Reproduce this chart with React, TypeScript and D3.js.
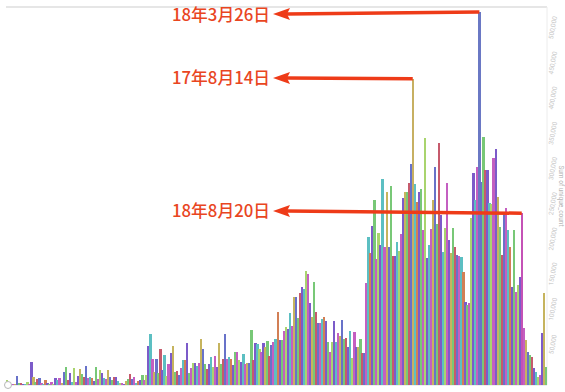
import * as d3 from 'd3';

// daily totals, in thousands left to right
const early = [
  7, 1, 1, 1, 1, 13, 3, 3, 1, 1, 4, 1, 33, 11, 4, 9, 10, 3, 1, 7,
  3, 1, 4, 1, 10, 7, 10, 3, 18, 26, 7, 17, 4, 24, 4, 13, 23, 16, 11, 27,
  10, 11, 10, 6, 26, 9, 21, 17, 10, 9, 21, 11, 7, 11, 11, 6, 3, 3, 1, 6,
  9, 16, 9, 11, 3, 6, 7, 14, 7, 14, 55, 72, 37, 18, 37, 17, 51, 21, 43, 13,
  30, 45, 55, 18, 20, 14, 24, 36, 36, 60,
];
const middle = [
  17, 24, 31, 31, 27, 31, 65, 51, 30, 23, 30, 40, 26, 41, 26, 60, 30, 37, 72, 37,
  40, 37, 28, 47, 47, 36, 33, 44, 30, 31, 31, 78, 36, 60, 58, 51, 47, 60, 54, 62,
  41, 57, 61, 65, 104, 64, 64, 77, 82, 80, 102, 84, 125, 125, 95, 131, 139, 136, 162, 158,
  116, 97, 146, 104, 88, 88, 94, 97, 91, 61, 47, 61, 91, 61, 74, 70, 92, 65, 67, 54,
  77, 38, 75, 54, 54, 65, 45, 45,
];
const late = [
  145, 210, 187, 226, 263, 179, 216, 199, 293, 196, 274, 196, 283, 183, 183, 203, 190, 214, 266, 274,
  274, 287, 314, 435, 285, 260, 274, 278, 220, 351, 180, 199, 222, 263, 310, 229, 344, 241, 189, 223,
  287, 206, 187, 223, 196, 185, 183, 182, 160, 118, 114, 116, 237, 301, 263, 310, 530, 288, 352, 305,
  305, 258, 257, 322, 335, 267, 224, 185, 246, 251, 220, 196, 139, 220, 132, 142, 153, 244, 81, 64,
  47, 43, 40, 24, 18, 11, 14, 74, 131, 26,
];
const values = [...early, ...middle, ...late].map(v => v * 1000);

const yTicks = [50000, 100000, 150000, 200000, 250000, 300000, 350000, 400000, 450000, 500000];

const notes = [
  { label: '18年3月26日', bar: early.length + middle.length + 56, textY: 15, tipY: 14 },
  { label: '17年8月14日', bar: early.length + middle.length + 23, textY: 78, tipY: 78 },
  { label: '18年8月20日', bar: early.length + middle.length + 77, textY: 211, tipY: 211 },
];

const palette = {
  green: '#78c877', purple: '#7c5bc9', pink: '#c45fc1', red: '#c65a6c', teal: '#5cbfc2',
  olive: '#c6b45e', blue: '#6872c9', lime: '#a9d46e', orange: '#d27f55',
};
// colour order as it repeats along the bars
const colorCycle = [
  'lime', 'purple', 'teal', 'pink', 'olive', 'blue', 'green', 'red', 'purple', 'teal', 'lime',
  'pink', 'purple', 'olive', 'green', 'red', 'blue', 'pink', 'teal', 'orange', 'purple', 'green', 'pink',
];
const noteColor = ['#6a78c4', '#c7b062', '#c452b6'];

export default function App() {
  const W = 565, H = 392;
  const left = 6, right = 547, top = 7, bottom = 385;

  const x = d3.scaleBand<number>()
    .domain(values.map((_, i) => i))
    .range([left, right])
    .paddingInner(0);
  const y = d3.scaleLinear().domain([0, 537000]).range([bottom, top]);
  const fmt = d3.format(',');

  const colorOf = (i: number) => {
    const n = notes.findIndex(a => a.bar === i);
    if (n >= 0) return noteColor[n];
    return palette[colorCycle[i % colorCycle.length] as keyof typeof palette];
  };

  return (
    <svg width={W} height={H} style={{ position: 'absolute', left: 0, top: 0, background: '#fff' }}>
      <line x1={left} x2={right} y1={top} y2={top} stroke="#e6e6e6" strokeWidth={2} />
      <line x1={right} x2={right} y1={top} y2={bottom} stroke="#ececec" strokeWidth={1} />
      <line x1={left} x2={right} y1={bottom + 0.5} y2={bottom + 0.5} stroke="#eeeeee" strokeWidth={1} />

      <g shapeRendering="crispEdges">
        {values.map((v, i) => (
          <rect key={i} x={x(i)} y={y(v)} width={x.bandwidth() + 0.3} height={bottom - y(v)} fill={colorOf(i)} />
        ))}
      </g>

      {yTicks.map(t => (
        <text key={t} transform={`translate(555,${y(t) - 5}) rotate(-80)`} textAnchor="middle"
          fontFamily="Roboto, sans-serif" fontSize={6.5} fill="#c6c6c6">{fmt(t)}</text>
      ))}
      <text transform="translate(559,196) rotate(90)" textAnchor="middle"
        fontFamily="Roboto, sans-serif" fontSize={6.5} fill="#b5b5b5">Sum of unique_count</text>

      <circle cx={8} cy={385} r={3.5} fill="#fff" stroke="#b8b8b8" strokeWidth={1} />

      {notes.map(a => {
        const bx = (x(a.bar) ?? 0) + x.bandwidth() / 2;
        const by = y(values[a.bar]);
        const tip = 273;
        return (
          <g key={a.label}>
            <line x1={bx} y1={by} x2={tip + 14} y2={a.tipY} stroke="#ee3b18" strokeWidth={3.5} />
            <path d={`M${tip},${a.tipY} L${tip + 17},${a.tipY - 6} L${tip + 14},${a.tipY} L${tip + 17},${a.tipY + 6} Z`} fill="#ee3b18" />
            <text x={270} y={a.textY + 6} textAnchor="end" textLength={98} lengthAdjust="spacingAndGlyphs"
              fontFamily="'Noto Sans CJK SC', 'Noto Sans', sans-serif" fontSize={17} fontWeight={500} fill="#e9461f">{a.label}</text>
          </g>
        );
      })}
    </svg>
  );
}
